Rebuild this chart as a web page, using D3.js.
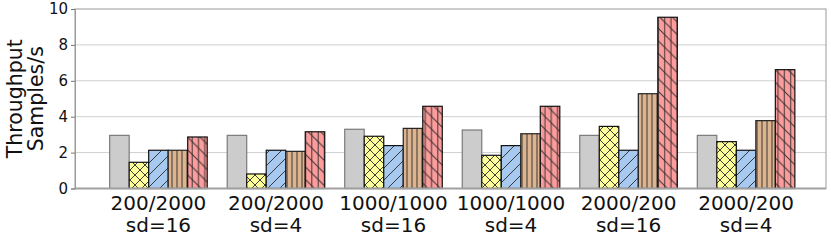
<!DOCTYPE html>
<html>
<head>
<meta charset="utf-8">
<script src="https://cdn.jsdelivr.net/npm/d3@7"></script>
<style>
  body { margin: 0; background: #fff; }
  text { font-family: "DejaVu Sans", sans-serif; fill: #111; }
</style>
</head>
<body>
<svg id="chart" width="831" height="240"></svg>
<script>
// data
var groups = ['200/2000|sd=16', '200/2000|sd=4', '1000/1000|sd=16', '1000/1000|sd=4', '2000/200|sd=16', '2000/200|sd=4'];
var seriesA = [2.96, 2.96, 3.30, 3.26, 2.96, 2.96];
var seriesB = [1.46, 0.81, 2.91, 1.85, 3.46, 2.61];
var seriesC = [2.13, 2.13, 2.39, 2.39, 2.13, 2.13];
var seriesD = [2.13, 2.07, 3.35, 3.05, 5.28, 3.78];
var seriesE = [2.87, 3.16, 4.58, 4.58, 9.54, 6.62];
var yTicks = [0, 2, 4, 6, 8, 10];

var series = [
  {vals: seriesA, fill: '#cccccc', edge: '#7a7a7a', pat: null},
  {vals: seriesB, fill: '#fdfd9a', edge: '#111', pat: 'patX'},
  {vals: seriesC, fill: '#a8c9ef', edge: '#111', pat: 'patSlash'},
  {vals: seriesD, fill: '#dcb48f', edge: '#222', pat: 'patVert'},
  {vals: seriesE, fill: '#fd9c9c', edge: '#111', pat: 'patBack'}
];

var svg = d3.select('#chart');
var pLeft = 75, pRight = 826, pTop = 9, pBottom = 188.5;

var x = d3.scaleLinear().domain([-0.71, 5.68]).range([pLeft, pRight]);
var y = d3.scaleLinear().domain([0, 10]).range([pBottom, pTop]);
var bw = 0.166;

//hatch patterns
var defs = svg.append('defs');
function pattern(id, size, lines) {
  var p = defs.append('pattern')
    .attr('id', id)
    .attr('patternUnits', 'userSpaceOnUse')
    .attr('width', size).attr('height', size);
  lines.forEach(function (l) {
    p.append('line')
      .attr('x1', l[0]).attr('y1', l[1]).attr('x2', l[2]).attr('y2', l[3])
      .attr('stroke', '#2a2a2a').attr('stroke-width', 1).attr('stroke-opacity', 0.9);
  });
}
pattern('patX', 10, [[0, 10, 10, 0], [-1, 1, 1, -1], [9, 11, 11, 9], [0, 0, 10, 10], [-1, 9, 1, 11], [9, -1, 11, 1]]);
pattern('patSlash', 12, [[0, 12, 12, 0], [-1, 1, 1, -1], [11, 13, 13, 11]]);
pattern('patVert', 5, [[2, 0, 2, 5]]);
pattern('patBack', 12.6, [[0, 0, 12.6, 12.6], [-1, 11.6, 1, 13.6], [11.6, -1, 13.6, 1], [3.15, 0, 3.15, 12.6], [9.45, 0, 9.45, 12.6]]);

//grid
svg.append('g').selectAll('line')
  .data(yTicks.filter(function (d) { return d > 0 && d < 10; })).enter()
  .append('line')
  .attr('x1', pLeft).attr('x2', pRight)
  .attr('y1', function (d) { return y(d); }).attr('y2', function (d) { return y(d); })
  .attr('stroke', '#cfcfcf').attr('stroke-width', 1);

//bars
series.forEach(function (s, j) {
  var g = svg.append('g');
  var sel = g.selectAll('g.bar').data(s.vals).enter().append('g');
  var bx = function (d, i) { return x(i + (j - 2.5) * bw); };
  var bwPx = x(bw) - x(0);
  sel.append('rect')
    .attr('x', bx).attr('y', function (d) { return y(d); })
    .attr('width', bwPx).attr('height', function (d) { return pBottom - y(d); })
    .attr('fill', s.fill);
  if (s.pat) {
    sel.append('rect')
      .attr('x', bx).attr('y', function (d) { return y(d); })
      .attr('width', bwPx).attr('height', function (d) { return pBottom - y(d); })
      .attr('fill', 'url(#' + s.pat + ')');
  }
  sel.append('rect')
    .attr('x', bx).attr('y', function (d) { return y(d); })
    .attr('width', bwPx).attr('height', function (d) { return pBottom - y(d); })
    .attr('fill', 'none').attr('stroke', s.edge).attr('stroke-width', 1.2);
});

//frame
svg.append('rect')
  .attr('x', pLeft).attr('y', pTop).attr('width', pRight - pLeft).attr('height', pBottom - pTop)
  .attr('fill', 'none').attr('stroke', '#9a9a9a').attr('stroke-width', 1);
svg.append('line')
  .attr('x1', pLeft).attr('x2', pRight).attr('y1', pBottom).attr('y2', pBottom)
  .attr('stroke', '#a0a0a0').attr('stroke-width', 2);

//y axis
var yAxis = svg.append('g')
  .attr('transform', 'translate(' + pLeft + ',0)')
  .call(d3.axisLeft(y).tickValues(yTicks).tickSize(4).tickPadding(3));
yAxis.select('.domain').attr('stroke', '#9a9a9a');
yAxis.selectAll('.tick line').attr('stroke', '#777');
yAxis.selectAll('.tick text')
  .style('font-family', '"DejaVu Sans", sans-serif').style('font-size', '15px').attr('fill', '#111');

//x labels
var xl = svg.append('g').selectAll('text')
  .data(groups).enter()
  .append('text')
  .attr('x', function (d, i) { return x(i); })
  .attr('text-anchor', 'middle')
  .style('font-size', '20px');
xl.append('tspan').attr('x', function (d, i) { return x(i); }).attr('y', 209.5)
  .text(function (d) { return d.split('|')[0]; });
xl.append('tspan').attr('x', function (d, i) { return x(i); }).attr('y', 231.5)
  .text(function (d) { return d.split('|')[1]; });

//y label
var yl = svg.append('text')
  .attr('transform', 'translate(0,' + ((pTop + pBottom) / 2) + ') rotate(-90)')
  .attr('text-anchor', 'middle')
  .style('font-size', '20.5px');
yl.append('tspan').attr('x', 0).attr('y', 21.5).text('Throughput');
yl.append('tspan').attr('x', 0).attr('y', 43).text('Samples/s');
</script>
</body>
</html>
